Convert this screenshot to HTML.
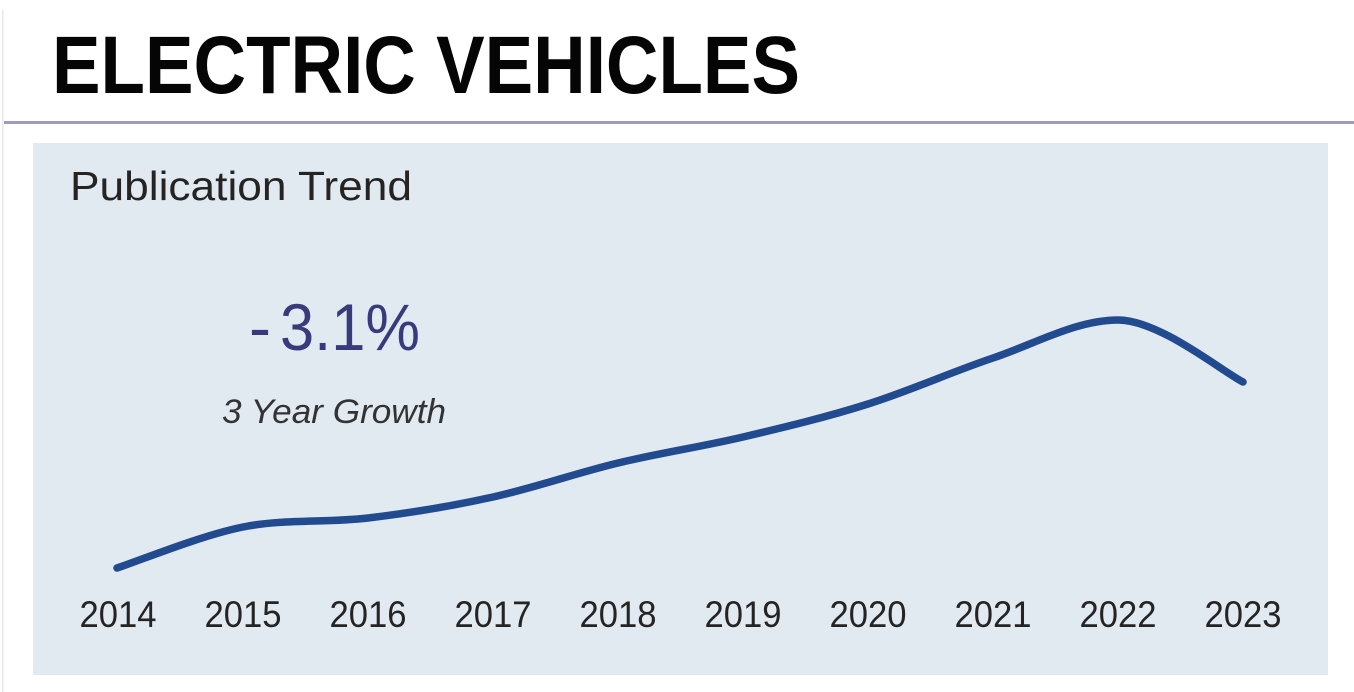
<!DOCTYPE html>
<html>
<head>
<meta charset="utf-8">
<style>
  html, body { margin: 0; padding: 0; background: #ffffff; }
  body { width: 1354px; height: 692px; overflow: hidden; }
  svg { display: block; }
</style>
</head>
<body>
<svg width="1354" height="692" viewBox="0 0 1354 692" xmlns="http://www.w3.org/2000/svg">
  <rect x="0" y="0" width="1354" height="692" fill="#ffffff"/>
  <!-- faint left border -->
  <rect x="2" y="10" width="1.5" height="682" fill="#e8e8e8"/>
  <!-- Title -->
  <text x="52" y="93" font-family="'Liberation Sans', sans-serif" font-weight="bold" font-size="82" fill="#050505" textLength="748" lengthAdjust="spacingAndGlyphs">ELECTRIC VEHICLES</text>
  <!-- divider line -->
  <rect x="4" y="121" width="1350" height="3" fill="#9d9dc2"/>
  <!-- Panel -->
  <rect x="33" y="143" width="1295" height="532" fill="#e1e9f1"/>
  <text x="70" y="200" font-family="'Liberation Sans', sans-serif" font-size="41" fill="#252423" textLength="342" lengthAdjust="spacingAndGlyphs">Publication Trend</text>
  <!-- KPI -->
  <text x="249" y="350" font-family="'Liberation Sans', sans-serif" font-size="66" fill="#373b7c" textLength="22" lengthAdjust="spacingAndGlyphs">-</text>
  <text x="280" y="350" font-family="'Liberation Sans', sans-serif" font-size="66" fill="#373b7c" textLength="140" lengthAdjust="spacingAndGlyphs">3.1%</text>
  <text x="222" y="423" font-family="'Liberation Sans', sans-serif" font-style="italic" font-size="34" fill="#333333" textLength="224" lengthAdjust="spacingAndGlyphs">3 Year Growth</text>
  <!-- Trend line -->
  <path d="M117,568 C138,561.2 201.2,535.3 243,527 C284.8,518.7 326.3,523 368,518 C409.7,513 451.3,506.2 493,497 C534.7,487.8 576.3,473 618,463 C659.7,453 701.3,446.8 743,437 C784.7,427.2 826.3,417.2 868,404 C909.7,390.8 951.3,372 993,358 C1034.7,344 1076.3,320 1118,320 C1159.7,320 1222.2,371.7 1243,382"
        fill="none" stroke="#224a8f" stroke-width="7.5" stroke-linecap="round" stroke-linejoin="round"/>
  <!-- X axis labels -->
  <g font-family="'Liberation Sans', sans-serif" font-size="37" fill="#252423" text-anchor="middle">
    <text x="118" y="627" textLength="77" lengthAdjust="spacingAndGlyphs">2014</text>
    <text x="243" y="627" textLength="77" lengthAdjust="spacingAndGlyphs">2015</text>
    <text x="368" y="627" textLength="77" lengthAdjust="spacingAndGlyphs">2016</text>
    <text x="493" y="627" textLength="77" lengthAdjust="spacingAndGlyphs">2017</text>
    <text x="618" y="627" textLength="77" lengthAdjust="spacingAndGlyphs">2018</text>
    <text x="743" y="627" textLength="77" lengthAdjust="spacingAndGlyphs">2019</text>
    <text x="868" y="627" textLength="77" lengthAdjust="spacingAndGlyphs">2020</text>
    <text x="993" y="627" textLength="77" lengthAdjust="spacingAndGlyphs">2021</text>
    <text x="1118" y="627" textLength="77" lengthAdjust="spacingAndGlyphs">2022</text>
    <text x="1243" y="627" textLength="77" lengthAdjust="spacingAndGlyphs">2023</text>
  </g>
</svg>
</body>
</html>
